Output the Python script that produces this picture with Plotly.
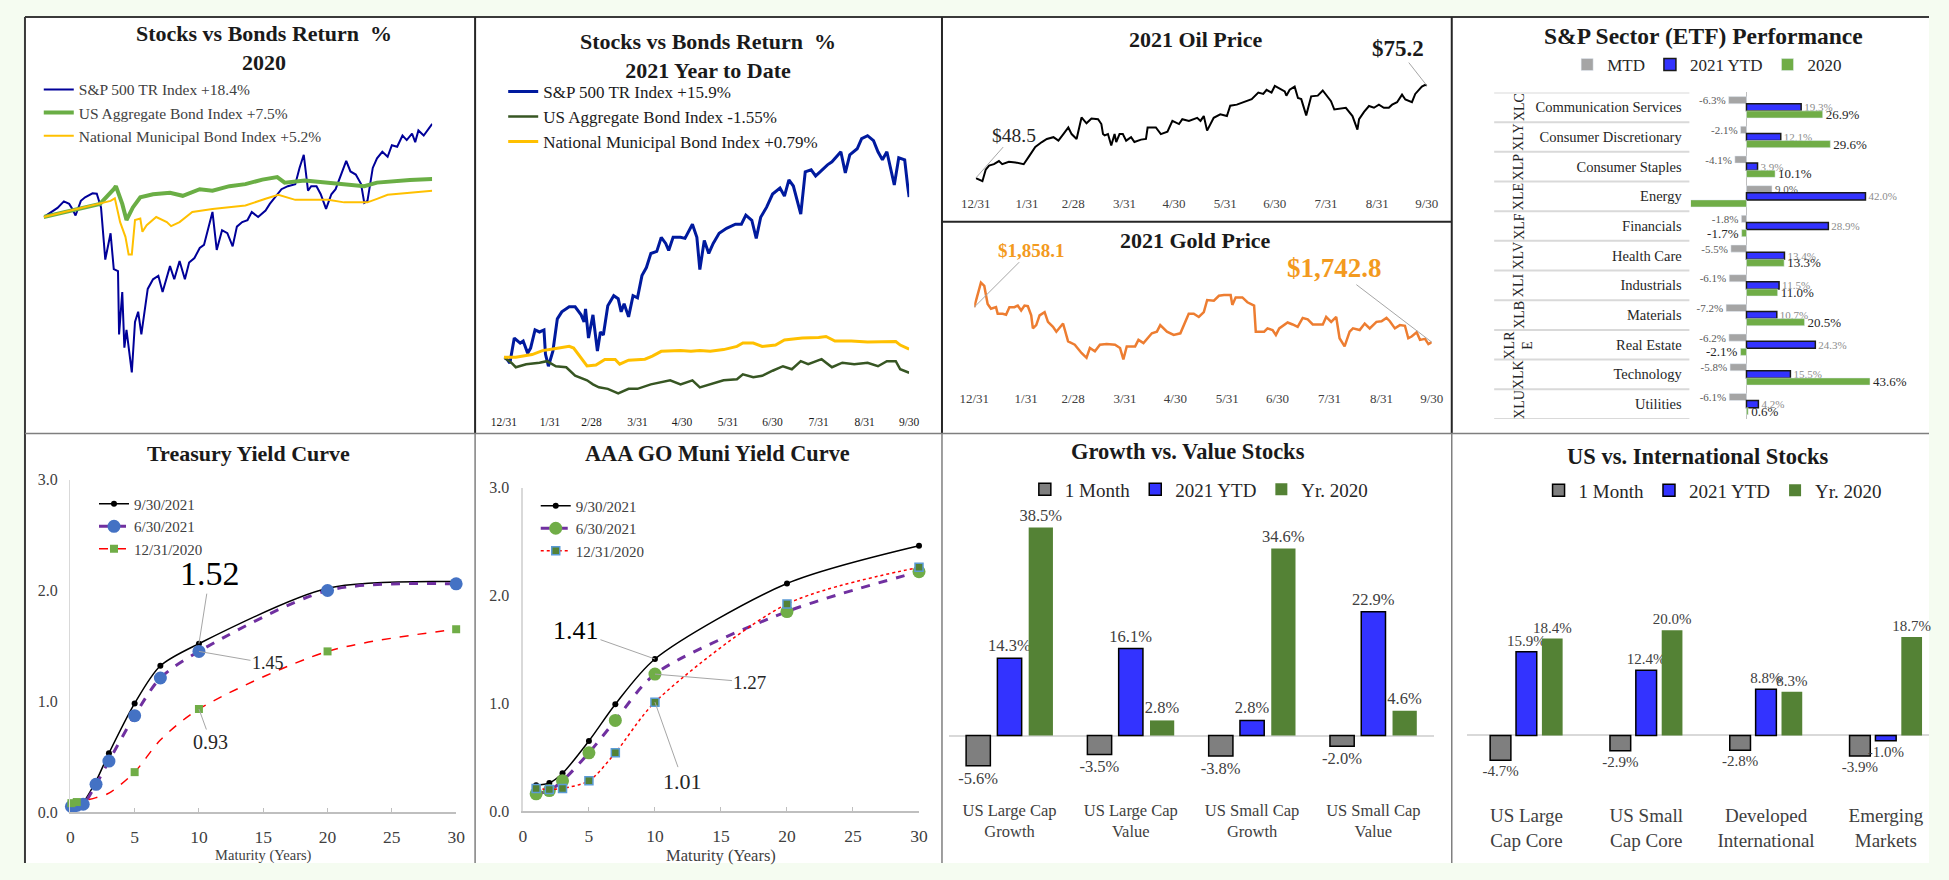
import pandas as pd
import plotly.graph_objects as go

# The page body keeps the browser's default 8px margin, so the figure is
# sized to fit the 1949x880 window exactly and every position below is
# given in window pixels and converted through px()/py().
OFF = 8
WIN_W, WIN_H = 1949, 880
FW, FH = WIN_W - 2 * OFF, WIN_H - 2 * OFF
SERIF = "Liberation Serif"

# ---------------- DATA ----------------
# Panel 1: 2020 cumulative returns (% since 12/31/2019), day offsets
sp2020_days = [0, 7, 13, 19, 24, 27, 30, 35, 39, 46, 50, 54, 58, 63, 66, 70, 71, 74, 76, 78, 83, 86, 89, 92, 98, 103,
               108, 112, 119, 123, 128, 133, 137, 142, 147, 151, 159, 163, 168, 173, 178, 182, 187, 192, 196, 202, 209,
               213, 218, 224, 230, 237, 241, 245, 249, 252, 257, 261, 266, 271, 275, 280, 285, 289, 294, 299, 302, 305,
               310, 314, 319, 324, 328, 333, 338, 342, 347, 350, 353, 358, 362, 366]
sp2020_pct = [0.0, 1.0, 1.8, 3.1, 2.6, 1.6, 0.3, 3.2, 3.9, 4.7, 4.6, 1.9, -8.4, -3.2, -10.3, -10.7, -23.2, -14.8, -25.8,
              -22.3, -30.7, -20.7, -18.7, -23.2, -14.2, -12.3, -11.6, -14.8, -9.7, -12.3, -8.7, -12.3, -9.0, -8.1, -6.1,
              -5.5, 1.0, -6.5, -2.6, -3.2, -5.8, -1.9, -1.0, -0.6, 1.0, 0.0, 1.3, 2.6, 3.9, 5.5, 6.1, 6.5, 9.7, 12.3, 5.2,
              6.1, 6.1, 4.5, 1.6, 4.5, 5.5, 8.4, 11.1, 9.0, 8.4, 6.5, 2.8, 3.2, 9.7, 11.6, 12.9, 11.9, 14.2, 13.9, 16.1,
              15.2, 16.5, 14.8, 17.1, 16.1, 17.3, 18.4]
agg2020_days = [0, 35, 53, 66, 68, 74, 78, 84, 91, 103, 119, 131, 147, 159, 175, 190, 206, 220, 227, 246, 268, 283, 302,
                314, 330, 345, 366]
agg2020_pct = [0.0, 1.6, 2.6, 5.5, 6.1, 2.6, -0.6, 1.9, 3.9, 4.5, 4.8, 4.2, 5.5, 5.2, 6.1, 6.5, 7.4, 7.9, 6.8, 7.2, 6.8,
               6.5, 6.1, 6.8, 7.1, 7.3, 7.5]
muni2020_days = [0, 35, 63, 67, 72, 77, 80, 83, 86, 91, 93, 97, 106, 116, 120, 128, 140, 159, 190, 209, 221, 237, 268,
                 283, 305, 314, 324, 345, 366]
muni2020_pct = [0.0, 1.8, 3.2, 3.7, -1.0, -3.9, -7.4, -7.4, -0.6, -0.3, -2.9, -1.6, 0.0, -1.0, -1.8, -1.0, 1.0, 1.6, 2.3,
                3.6, 4.4, 3.4, 3.4, 2.9, 2.9, 3.6, 4.4, 4.8, 5.2]
names2020 = ["S&P 500 TR Index +18.4%", "US Aggregate Bond Index +7.5%", "National Municipal Bond Index +5.2%"]

# Panel 2: 2021 YTD cumulative returns (% since 12/31/2020)
sp2021_days = [0, 2, 4, 7, 11, 13, 16, 18, 21, 24, 27, 28, 30, 33, 36, 39, 44, 48, 52, 54, 55, 57, 60, 63, 65, 67, 70,
               74, 77, 79, 81, 84, 87, 90, 93, 96, 99, 103, 106, 109, 111, 114, 119, 122, 127, 130, 132, 135, 138, 141,
               145, 150, 156, 160, 163, 167, 170, 173, 177, 181, 186, 189, 192, 195, 200, 203, 207, 210, 213, 218, 221,
               227, 230, 233, 238, 241, 245, 249, 252, 255, 258, 260, 263, 266, 270, 272, 273]
sp2021_pct = [0.0, -0.2, -0.6, 1.9, 1.4, 1.6, 0.4, 0.9, 2.7, 2.5, 2.7, 0.3, -0.9, 0.6, 3.8, 4.5, 5.0, 5.0, 4.2, 3.5, 4.8,
              1.9, 4.2, 0.6, 2.5, 2.2, 5.1, 6.1, 5.8, 4.5, 5.3, 4.0, 6.1, 5.9, 8.1, 8.9, 10.3, 10.5, 11.9, 11.3, 10.6,
              11.9, 11.9, 11.8, 13.2, 11.9, 8.7, 11.6, 10.3, 11.3, 12.3, 12.8, 13.2, 13.2, 14.1, 13.6, 11.8, 13.9, 14.9,
              16.2, 16.8, 16.0, 17.6, 17.0, 14.2, 18.4, 18.6, 18.0, 18.4, 19.1, 19.4, 20.4, 18.3, 20.1, 20.7, 21.7, 22.0,
              21.5, 20.4, 19.6, 20.4, 19.1, 17.1, 19.8, 19.6, 17.0, 15.9]
agg2021_days = [0, 5, 8, 15, 24, 29, 35, 42, 48, 56, 60, 64, 70, 77, 84, 90, 99, 106, 112, 119, 127, 132, 139, 148, 157,
                161, 168, 174, 181, 188, 194, 200, 205, 214, 221, 228, 236, 245, 252, 258, 264, 267, 273]
agg2021_pct = [0.0, -0.55, -1.0, -0.7, -0.55, -0.4, -0.9, -1.0, -1.85, -2.3, -2.7, -3.0, -3.15, -3.6, -3.15, -3.15, -2.7,
               -2.5, -2.3, -2.7, -2.3, -3.0, -2.7, -2.3, -2.2, -1.7, -2.0, -1.85, -1.35, -0.9, -1.2, -0.4, -0.7, -0.2,
               -1.0, -0.55, -0.7, -0.55, -0.9, -0.4, -0.4, -1.2, -1.55]
muni2021_days = [0, 8, 19, 26, 35, 44, 47, 52, 56, 62, 68, 75, 78, 84, 95, 100, 106, 119, 126, 132, 139, 148, 157, 161,
                 168, 174, 183, 189, 201, 212, 217, 223, 234, 245, 259, 264, 267, 273]
muni2021_pct = [0.0, 0.0, 0.26, 0.65, 0.85, 1.07, 0.9, -0.06, -0.88, -0.78, -0.23, -0.23, -0.7, -0.3, -0.2, 0.1, 0.58,
                0.65, 0.58, 0.65, 0.58, 0.75, 1.07, 1.4, 1.4, 1.07, 1.2, 1.7, 1.9, 1.95, 2.05, 1.6, 1.6, 1.5, 1.55, 1.55,
                1.2, 0.79]
names2021 = ["S&P 500 TR Index +15.9%", "US Aggregate Bond Index -1.55%", "National Municipal Bond Index +0.79%"]

month_end_dates = ["2020-12-31", "2021-01-31", "2021-02-28", "2021-03-31", "2021-04-30", "2021-05-31", "2021-06-30",
                   "2021-07-31", "2021-08-31", "2021-09-30"]
month_end_labels = ["12/31", "1/31", "2/28", "3/31", "4/30", "5/31", "6/30", "7/31", "8/31", "9/30"]

# Panel 3: Oil and Gold 2021
oil_days = [0, 2, 4, 6, 8, 11, 14, 16, 20, 24, 29, 32, 36, 40, 43, 47, 50, 53, 56, 58, 61, 64, 67, 70, 74, 76, 77, 78,
            80, 82, 84, 85, 87, 89, 91, 94, 96, 100, 103, 104, 109, 112, 116, 119, 123, 125, 129, 134, 136, 138, 140,
            144, 148, 152, 154, 158, 163, 167, 171, 174, 176, 179, 181, 184, 187, 188, 190, 193, 195, 197, 200, 203,
            207, 210, 215, 217, 221, 224, 228, 231, 232, 235, 238, 241, 244, 247, 250, 252, 255, 258, 260, 264, 266,
            270, 272, 273]
oil_price = [48.5, 48.0, 47.6, 50.9, 52.1, 52.5, 53.4, 52.5, 53.2, 53.0, 52.5, 54.6, 57.5, 58.9, 59.8, 60.3, 59.3, 61.2,
             63.1, 61.2, 59.8, 66.0, 64.3, 65.7, 65.5, 64.1, 61.2, 60.8, 61.2, 57.9, 61.2, 58.9, 61.2, 61.2, 59.3, 60.3,
             58.9, 59.6, 59.8, 63.1, 63.1, 61.2, 61.9, 65.0, 64.1, 65.5, 65.0, 65.9, 65.0, 66.4, 62.2, 65.9, 66.9, 66.4,
             69.4, 69.7, 70.7, 71.3, 73.2, 72.8, 74.0, 73.2, 75.1, 74.2, 73.5, 72.3, 74.0, 74.9, 71.6, 71.3, 66.6, 72.1,
             72.3, 73.8, 70.7, 68.3, 68.5, 68.8, 66.4, 62.5, 65.5, 67.6, 69.3, 68.8, 69.7, 68.8, 68.8, 69.7, 70.4, 72.6,
             71.2, 70.4, 72.8, 74.9, 75.4, 75.2]
gold_days = [0, 2, 4, 6, 8, 10, 13, 14, 17, 19, 21, 24, 26, 28, 30, 32, 34, 35, 37, 39, 42, 44, 47, 49, 53, 56, 60, 64,
             67, 69, 72, 75, 79, 84, 87, 89, 91, 96, 98, 101, 106, 109, 111, 115, 119, 123, 125, 128, 131, 134, 137,
             139, 143, 146, 149, 153, 154, 156, 160, 163, 167, 168, 173, 175, 178, 180, 182, 187, 190, 193, 196, 199,
             202, 208, 210, 213, 216, 218, 221, 224, 226, 230, 233, 236, 240, 243, 246, 248, 251, 254, 257, 259, 261,
             264, 266, 269, 271, 273]
gold_price = [1858.1, 1895.8, 1938.9, 1928.1, 1868.9, 1852.7, 1858.1, 1836.6, 1836.6, 1833.3, 1858.1, 1858.1, 1863.5,
              1847.3, 1863.5, 1861.3, 1831.2, 1788.1, 1798.9, 1831.2, 1841.9, 1809.6, 1793.4, 1777.3, 1804.2, 1745.0,
              1734.2, 1707.2, 1691.1, 1723.4, 1712.7, 1734.2, 1736.3, 1734.2, 1723.4, 1685.7, 1728.8, 1728.8, 1750.3,
              1739.5, 1771.9, 1777.3, 1798.9, 1777.3, 1766.5, 1771.9, 1798.9, 1836.6, 1836.6, 1825.8, 1841.9, 1881.8,
              1879.6, 1895.8, 1898.0, 1898.0, 1865.6, 1890.4, 1890.4, 1874.3, 1863.5, 1777.3, 1777.3, 1788.1, 1782.7,
              1766.5, 1788.1, 1807.5, 1801.0, 1793.4, 1822.5, 1818.2, 1801.0, 1801.0, 1825.8, 1809.6, 1825.8, 1755.7,
              1728.8, 1777.3, 1788.1, 1782.7, 1804.2, 1788.1, 1809.6, 1811.8, 1822.5, 1811.8, 1788.1, 1798.9, 1796.7,
              1755.7, 1761.4, 1775.1, 1750.3, 1753.6, 1736.3, 1742.8]

# Panel 4: sector ETFs
sectors = ["Communication Services", "Consumer Discretionary", "Consumer Staples", "Energy", "Financials",
           "Health Care", "Industrials", "Materials", "Real Estate", "Technology", "Utilities"]
tickers = ["XLC", "XLY", "XLP", "XLE", "XLF", "XLV", "XLI", "XLB", "XLRE", "XLK", "XLU"]
sector_mtd = [-6.3, -2.1, -4.1, 9.0, -1.8, -5.5, -6.1, -7.2, -6.2, -5.8, -6.1]
sector_ytd = [19.3, 12.1, 3.9, 42.0, 28.9, 13.4, 11.5, 10.7, 24.3, 15.5, 4.2]
sector_2020 = [26.9, 29.6, 10.1, -33.7, -1.7, 13.3, 11.0, 20.5, -2.1, 43.6, 0.6]

# Panel 5: Treasury yield curve
tsy_maturity = [0.083, 0.25, 0.5, 1, 2, 3, 5, 7, 10, 20, 30]
tsy_0930 = [0.07, 0.04, 0.05, 0.09, 0.28, 0.53, 0.98, 1.32, 1.52, 2.02, 2.08]
tsy_0630 = [0.05, 0.05, 0.06, 0.07, 0.25, 0.46, 0.87, 1.21, 1.45, 2.00, 2.06]
tsy_1231 = [0.08, 0.09, 0.09, 0.10, 0.13, 0.17, 0.36, 0.65, 0.93, 1.45, 1.65]
tsy_1231_marked = [0.083, 0.5, 5, 10, 20, 30]

# Panel 6: AAA GO muni yield curve
muni_maturity = [1, 2, 3, 5, 7, 10, 20, 30]
muni_0930 = [0.24, 0.26, 0.35, 0.65, 0.99, 1.41, 2.11, 2.46]
muni_0630 = [0.16, 0.19, 0.28, 0.54, 0.84, 1.27, 1.85, 2.22]
muni_1231 = [0.21, 0.20, 0.21, 0.28, 0.54, 1.01, 1.92, 2.26]
curve_names = ["9/30/2021", "6/30/2021", "12/31/2020"]

# Panel 7: growth vs value
gv_categories = ["US Large Cap<br>Growth", "US Large Cap<br>Value", "US Small Cap<br>Growth", "US Small Cap<br>Value"]
gv_1m = [-5.6, -3.5, -3.8, -2.0]
gv_ytd = [14.3, 16.1, 2.8, 22.9]
gv_2020 = [38.5, 2.8, 34.6, 4.6]

# Panel 8: US vs international
intl_categories = ["US Large<br>Cap Core", "US Small<br>Cap Core", "Developed<br>International", "Emerging<br>Markets"]
intl_1m = [-4.7, -2.9, -2.8, -3.9]
intl_ytd = [15.9, 12.4, 8.8, -1.0]
intl_2020 = [18.4, 20.0, 8.3, 18.7]
bar_names = ["1 Month", "2021 YTD", "Yr. 2020"]


# ---------------- HELPERS ----------------
def px(x):
    return min(max((x - OFF) / FW, 0.0), 1.0)


def py(y):
    return min(max(1 - (y - OFF) / FH, 0.0), 1.0)


def xd(a, b):
    return [px(a), px(b)]


def yd(top, bottom):
    return [py(bottom), py(top)]


def d2020(days):
    return list(pd.Timestamp("2019-12-31") + pd.to_timedelta(days, unit="D"))


def d2021(days):
    return list(pd.Timestamp("2020-12-31") + pd.to_timedelta(days, unit="D"))


def pct_text(vals):
    return [f"{v:.1f}%" for v in vals]


fig = go.Figure()

# ---------------- PANEL 1 ----------------
fig.add_trace(go.Scatter(x=d2020(sp2020_days), y=sp2020_pct, mode="lines", name=names2020[0],
                         line=dict(color="#000099", width=2), xaxis="x", yaxis="y", legend="legend"))
fig.add_trace(go.Scatter(x=d2020(agg2020_days), y=agg2020_pct, mode="lines", name=names2020[1],
                         line=dict(color="#6AAE45", width=4), xaxis="x", yaxis="y", legend="legend"))
fig.add_trace(go.Scatter(x=d2020(muni2020_days), y=muni2020_pct, mode="lines", name=names2020[2],
                         line=dict(color="#FFC000", width=2), xaxis="x", yaxis="y", legend="legend"))

# ---------------- PANEL 2 ----------------
fig.add_trace(go.Scatter(x=d2021(sp2021_days), y=sp2021_pct, mode="lines", name=names2021[0],
                         line=dict(color="#001A9E", width=3), xaxis="x2", yaxis="y2", legend="legend2"))
fig.add_trace(go.Scatter(x=d2021(agg2021_days), y=agg2021_pct, mode="lines", name=names2021[1],
                         line=dict(color="#375623", width=2.5), xaxis="x2", yaxis="y2", legend="legend2"))
fig.add_trace(go.Scatter(x=d2021(muni2021_days), y=muni2021_pct, mode="lines", name=names2021[2],
                         line=dict(color="#FFC000", width=3), xaxis="x2", yaxis="y2", legend="legend2"))

# ---------------- PANEL 3: oil / gold ----------------
fig.add_trace(go.Scatter(x=d2021(oil_days), y=oil_price, mode="lines", line=dict(color="black", width=2),
                         showlegend=False, xaxis="x3", yaxis="y3"))
fig.add_trace(go.Scatter(x=d2021(gold_days), y=gold_price, mode="lines", line=dict(color="#ED7D31", width=2.5),
                         showlegend=False, xaxis="x4", yaxis="y4"))

# ---------------- PANEL 4: sectors ----------------
sector_xmin, sector_xmax = -19.7, 60.6
fig.add_trace(go.Bar(y=sectors, x=sector_mtd, orientation="h", name="MTD", marker=dict(color="#A5A5A5"),
                     width=0.24, offset=-0.36, text=pct_text(sector_mtd), textposition="outside",
                     textfont=dict(family=SERIF, size=11, color="#595959"), constraintext="none", cliponaxis=False,
                     xaxis="x5", yaxis="y5", legend="legend3"))
fig.add_trace(go.Bar(y=sectors, x=sector_ytd, orientation="h", name="2021 YTD",
                     marker=dict(color="#3333FF", line=dict(color="#1A1A1A", width=1.5)),
                     width=0.24, offset=-0.12, text=pct_text(sector_ytd), textposition="outside",
                     textfont=dict(family=SERIF, size=11, color="#8C8C8C"), constraintext="none", cliponaxis=False,
                     xaxis="x5", yaxis="y5", legend="legend3"))
fig.add_trace(go.Bar(y=sectors, x=sector_2020, orientation="h", name="2020", marker=dict(color="#70AD47"),
                     width=0.24, offset=0.12,
                     text=[t if v > sector_xmin else "" for t, v in zip(pct_text(sector_2020), sector_2020)],
                     textposition="outside", textfont=dict(family=SERIF, size=13, color="#262626"),
                     constraintext="none", cliponaxis=True, xaxis="x5", yaxis="y5", legend="legend3"))

# ---------------- PANEL 5: treasury ----------------
tsy_marker_colors = ["#70AD47" if m in tsy_1231_marked else "rgba(0,0,0,0)" for m in tsy_maturity]
fig.add_trace(go.Scatter(x=tsy_maturity, y=tsy_0930, mode="lines+markers", name=curve_names[0],
                         line=dict(color="black", width=1.5, shape="spline", smoothing=0.8),
                         marker=dict(color="black", size=6), cliponaxis=False,
                         xaxis="x6", yaxis="y6", legend="legend4"))
fig.add_trace(go.Scatter(x=tsy_maturity, y=tsy_0630, mode="lines+markers", name=curve_names[1],
                         line=dict(color="#7030A0", width=3, dash="dash", shape="spline", smoothing=0.8),
                         marker=dict(color="#4472C4", size=13), cliponaxis=False,
                         xaxis="x6", yaxis="y6", legend="legend4"))
fig.add_trace(go.Scatter(x=tsy_maturity, y=tsy_1231, mode="lines+markers", name=curve_names[2],
                         line=dict(color="#FF0000", width=1.5, dash="dash", shape="spline", smoothing=0.8),
                         marker=dict(color=tsy_marker_colors, size=8, symbol="square"), cliponaxis=False,
                         xaxis="x6", yaxis="y6", legend="legend4"))

# ---------------- PANEL 6: muni curve ----------------
fig.add_trace(go.Scatter(x=muni_maturity, y=muni_0930, mode="lines+markers", name=curve_names[0],
                         line=dict(color="black", width=1.5, shape="spline", smoothing=0.8),
                         marker=dict(color="black", size=6), cliponaxis=False,
                         xaxis="x7", yaxis="y7", legend="legend5"))
fig.add_trace(go.Scatter(x=muni_maturity, y=muni_0630, mode="lines+markers", name=curve_names[1],
                         line=dict(color="#7030A0", width=3, dash="dash", shape="spline", smoothing=0.8),
                         marker=dict(color="#70AD47", size=13), cliponaxis=False,
                         xaxis="x7", yaxis="y7", legend="legend5"))
fig.add_trace(go.Scatter(x=muni_maturity, y=muni_1231, mode="lines+markers", name=curve_names[2],
                         line=dict(color="#FF0000", width=1.5, dash="dot", shape="spline", smoothing=0.8),
                         marker=dict(color="#548235", size=8, symbol="square", line=dict(color="#5B9BD5", width=1.5)),
                         cliponaxis=False, xaxis="x7", yaxis="y7", legend="legend5"))

# ---------------- PANELS 7 & 8: bars ----------------
bar_styles = [
    dict(color="#7F7F7F", line=dict(color="black", width=1.5)),
    dict(color="#3333FF", line=dict(color="black", width=1.5)),
    dict(color="#548235", line=dict(color="#548235", width=0)),
]
for i, vals in enumerate([gv_1m, gv_ytd, gv_2020]):
    fig.add_trace(go.Bar(x=gv_categories, y=vals, name=bar_names[i], marker=bar_styles[i], width=0.2,
                         offset=-0.358 + i * 0.258, text=pct_text(vals), textposition="outside",
                         textfont=dict(family=SERIF, size=16.5, color="#404040"), constraintext="none",
                         cliponaxis=False, xaxis="x8", yaxis="y8", legend="legend6"))
for i, vals in enumerate([intl_1m, intl_ytd, intl_2020]):
    fig.add_trace(go.Bar(x=intl_categories, y=vals, name=bar_names[i], marker=bar_styles[i], width=0.173,
                         offset=-0.303 + i * 0.216, text=pct_text(vals), textposition="outside",
                         textfont=dict(family=SERIF, size=15, color="#404040"), constraintext="none",
                         cliponaxis=False, xaxis="x9", yaxis="y9", legend="legend7"))

# ---------------- AXES ----------------
hidden = dict(visible=False, showgrid=False, zeroline=False)
date_ticks = dict(tickmode="array", tickvals=month_end_dates, ticktext=month_end_labels, showgrid=False,
                  zeroline=False, showline=False, ticks="")
intl_right = (WIN_W - OFF - 1472) / 121.5 - 0.5
fig.update_layout(
    xaxis=dict(domain=xd(29, 423), range=["2019-12-31", "2020-12-31"], anchor="y", **hidden),
    yaxis=dict(domain=yd(100, 400), range=[-36.2, 21.9], anchor="x", **hidden),
    xaxis2=dict(domain=xd(495.7, 906.7), range=["2020-12-31", "2021-09-30"], anchor="y2",
                tickfont=dict(family=SERIF, size=11.5, color="#1A1A1A"), **date_ticks),
    yaxis2=dict(domain=yd(120, 413), range=[-5.55, 22.98], anchor="x2", **hidden),
    xaxis3=dict(domain=xd(974.3, 1431.7), range=["2020-12-31", "2021-09-30"], anchor="y3",
                tickfont=dict(family=SERIF, size=13, color="#404040"), **date_ticks),
    yaxis3=dict(domain=yd(60, 190), range=[43.77, 80.58], anchor="x3", **hidden),
    xaxis4=dict(domain=xd(972.7, 1436.7), range=["2020-12-31", "2021-09-30"], anchor="y4",
                tickfont=dict(family=SERIF, size=13, color="#404040"), **date_ticks),
    yaxis4=dict(domain=yd(255, 388), range=[1589.8, 2019.8], anchor="x4", **hidden),
    xaxis5=dict(domain=xd(1699.3, 1930), range=[sector_xmin, sector_xmax], anchor="y5", showticklabels=False,
                showgrid=False, zeroline=True, zerolinecolor="#BFBFBF", zerolinewidth=1.5, showline=False, ticks=""),
    yaxis5=dict(domain=yd(86, 419), type="category", range=[10.5, -0.5], anchor="x5", showgrid=False,
                zeroline=False, ticks="", showline=False, ticklabelstandoff=8,
                tickfont=dict(family=SERIF, size=14.5, color="#262626")),
    xaxis6=dict(domain=xd(56, 447.3), range=[0, 30], dtick=5, tick0=0, anchor="y6", showgrid=False, zeroline=False,
                showline=True, linecolor="#BFBFBF", linewidth=1.5, ticks="inside", ticklen=4, tickcolor="#BFBFBF",
                ticklabelstandoff=8, tickfont=dict(family=SERIF, size=17.5, color="#404040"),
                title=dict(text="Maturity (Years)", font=dict(family=SERIF, size=14.5, color="#404040"), standoff=3)),
    yaxis6=dict(domain=yd(481, 820), range=[0, 3], dtick=1, tickformat=".1f", anchor="x6", showgrid=False,
                zeroline=False, showline=True, linecolor="#D9D9D9", linewidth=1.5, ticks="", ticklabelstandoff=8,
                tickfont=dict(family=SERIF, size=16, color="#404040")),
    xaxis7=dict(domain=xd(515, 916.7), range=[0, 30], dtick=5, tick0=0, anchor="y7", showgrid=False, zeroline=False,
                showline=True, linecolor="#BFBFBF", linewidth=1.5, ticks="inside", ticklen=4, tickcolor="#BFBFBF",
                ticklabelstandoff=8, tickfont=dict(family=SERIF, size=17.5, color="#404040"),
                title=dict(text="Maturity (Years)", font=dict(family=SERIF, size=16.5, color="#404040"), standoff=2)),
    yaxis7=dict(domain=yd(489, 819), range=[0, 3], dtick=1, tickformat=".1f", anchor="x7", showgrid=False,
                zeroline=False, showline=True, linecolor="#D9D9D9", linewidth=1.5, ticks="", ticklabelstandoff=9,
                tickfont=dict(family=SERIF, size=16, color="#404040")),
    xaxis8=dict(domain=xd(947, 1439), range=[-0.5, 3.5], type="category", anchor="y8", showgrid=False,
                zeroline=False, showline=False, ticks="", ticklabelstandoff=3,
                tickfont=dict(family=SERIF, size=16.5, color="#404040")),
    yaxis8=dict(domain=yd(505, 803), range=[-11.07, 43.0], anchor="x8", showgrid=False, showticklabels=False,
                zeroline=True, zerolinecolor="#D9D9D9", zerolinewidth=2, showline=False, ticks=""),
    xaxis9=dict(domain=xd(1472, WIN_W - OFF), range=[-0.5, intl_right], type="category", anchor="y9",
                showgrid=False, zeroline=False, showline=False, ticks="", ticklabelstandoff=2,
                tickfont=dict(family=SERIF, size=19, color="#404040")),
    yaxis9=dict(domain=yd(505, 808), range=[-12.3, 44.1], anchor="x9", showgrid=False, showticklabels=False,
                zeroline=True, zerolinecolor="#D9D9D9", zerolinewidth=2, showline=False, ticks=""),
)


# ---------------- LEGENDS ----------------
def vleg(xpx, ypx, size, color="#404040"):
    return dict(x=px(xpx), y=py(ypx), xanchor="left", yanchor="top", bgcolor="rgba(0,0,0,0)",
                font=dict(family=SERIF, size=size, color=color), itemwidth=30, tracegroupgap=0)


def hleg(xpx, ypx, size):
    return dict(x=px(xpx), y=py(ypx), xanchor="center", yanchor="middle", orientation="h",
                bgcolor="rgba(0,0,0,0)", font=dict(family=SERIF, size=size, color="#262626"), itemwidth=30)


fig.update_layout(
    legend=vleg(24, 66, 15.5),
    legend2=vleg(495, 67, 17, "#1A1A1A"),
    legend3=hleg(1716, 58, 17),
    legend4=vleg(80, 489, 15),
    legend5=vleg(528, 491, 15),
    legend6=hleg(1201, 491, 19),
    legend7=hleg(1722, 492, 19),
)

# ---------------- ANNOTATIONS ----------------
ann = []


def title(text, xpx, ypx, size):
    ann.append(dict(text=f"<b>{text}</b>", x=px(xpx), y=py(ypx), xref="paper", yref="paper", showarrow=False,
                    xanchor="center", yanchor="middle", font=dict(family=SERIF, size=size, color="#1A1A1A")))


title("Stocks vs Bonds Return\u00a0\u00a0%<br>2020", 252, 41, 22)
title("Stocks vs Bonds Return\u00a0\u00a0%<br>2021 Year to Date", 703, 49, 22)
title("2021 Oil Price", 1197, 32, 22)
title("2021 Gold Price", 1197, 237, 22)
title("S&amp;P Sector (ETF) Performance", 1712, 28, 23.5)
title("Treasury Yield Curve", 237, 454, 22)
title("AAA GO Muni Yield Curve", 712, 454, 22.3)
title("Growth vs. Value Stocks", 1190, 452, 22.5)
title("US vs. International Stocks", 1707, 457, 22.5)


def callout(xref, yref, x, y, text, ax, ay, size, color, bold=False):
    ann.append(dict(x=x, y=y, xref=xref, yref=yref, text=f"<b>{text}</b>" if bold else text, showarrow=True,
                    arrowhead=0, arrowwidth=1, arrowcolor="#A6A6A6", ax=ax, ay=ay, standoff=0,
                    font=dict(family=SERIF, size=size, color=color)))


oil_dates = d2021(oil_days)
gold_dates = d2021(gold_days)
callout("x3", "y3", oil_dates[0], oil_price[0], f"${oil_price[0]:.1f}", 38, -43, 19.5, "#262626")
callout("x3", "y3", oil_dates[-1], oil_price[-1], f"${oil_price[-1]:.1f}", -29, -37, 23, "#1A1A1A", bold=True)
callout("x4", "y4", gold_dates[0], gold_price[0], f"${gold_price[0]:,.1f}", 57, -57, 19, "#F39A1E", bold=True)
callout("x4", "y4", gold_dates[-1], gold_price[-1], f"${gold_price[-1]:,.1f}", -97, -74, 27, "#F39A1E", bold=True)

i10 = tsy_maturity.index(10)
callout("x6", "y6", 10, tsy_0930[i10], f"{tsy_0930[i10]:.2f}", 11, -70, 34, "#000000")
callout("x6", "y6", 10, tsy_0630[i10], f"{tsy_0630[i10]:.2f}", 69, 12, 18, "#262626")
callout("x6", "y6", 10, tsy_1231[i10], f"{tsy_1231[i10]:.2f}", 12, 33, 20, "#262626")
m10 = muni_maturity.index(10)
callout("x7", "y7", 10, muni_0930[m10], f"{muni_0930[m10]:.2f}", -79, -28, 26, "#000000")
callout("x7", "y7", 10, muni_0630[m10], f"{muni_0630[m10]:.2f}", 95, 8, 19, "#262626")
callout("x7", "y7", 10, muni_1231[m10], f"{muni_1231[m10]:.2f}", 28, 79, 22, "#262626")

for s, t in zip(sectors, tickers):
    label = "XLR<br>E" if t == "XLRE" else t
    ann.append(dict(x=px(1525), xref="paper", y=s, yref="y5", text=label, textangle=-90, showarrow=False,
                    xanchor="center", yanchor="middle", font=dict(family=SERIF, size=14, color="#262626")))

fig.update_layout(annotations=ann)

# ---------------- SHAPES (panel frames) ----------------
shapes = [dict(type="rect", xref="paper", yref="paper", x0=px(10), x1=1, y0=0, y1=py(9),
               fillcolor="white", line=dict(width=0), layer="below")]


def hline(x0, x1, ypx, color, w):
    shapes.append(dict(type="line", xref="paper", yref="paper", x0=px(x0), x1=px(x1), y0=py(ypx), y1=py(ypx),
                       line=dict(color=color, width=w), layer="above"))


def vline(xpx, y0, y1, color, w):
    shapes.append(dict(type="line", xref="paper", yref="paper", x0=px(xpx), x1=px(xpx), y0=py(y0), y1=py(y1),
                       line=dict(color=color, width=w), layer="above"))


hline(10, WIN_W, 9, "#3A3A3A", 2)
vline(10, 9, WIN_H, "#3A3A3A", 2)
for xv in (466.5, 940, 1457):
    vline(xv, 9, 434, "#262626", 2)
    vline(xv, 434, WIN_H, "#7F7F7F", 1.5)
hline(940, 1457, 218, "#262626", 2)
hline(10, WIN_W, 434, "#7F7F7F", 1.5)
for k in range(len(sectors) + 1):
    shapes.append(dict(type="line", xref="paper", yref="y5", x0=px(1500), x1=px(1698), y0=k - 0.5, y1=k - 0.5,
                       line=dict(color="#D9D9D9", width=2), layer="below"))

fig.update_layout(
    shapes=shapes,
    width=FW, height=FH, margin=dict(l=0, r=0, t=0, b=0),
    paper_bgcolor="#F5FCF1", plot_bgcolor="rgba(0,0,0,0)",
    barmode="group", font=dict(family=SERIF, color="#262626"),
    hovermode=False,
)

fig.write_html("out.html", config={"displayModeBar": False, "staticPlot": True},
               post_script="document.body.style.background='#F5FCF1';")
